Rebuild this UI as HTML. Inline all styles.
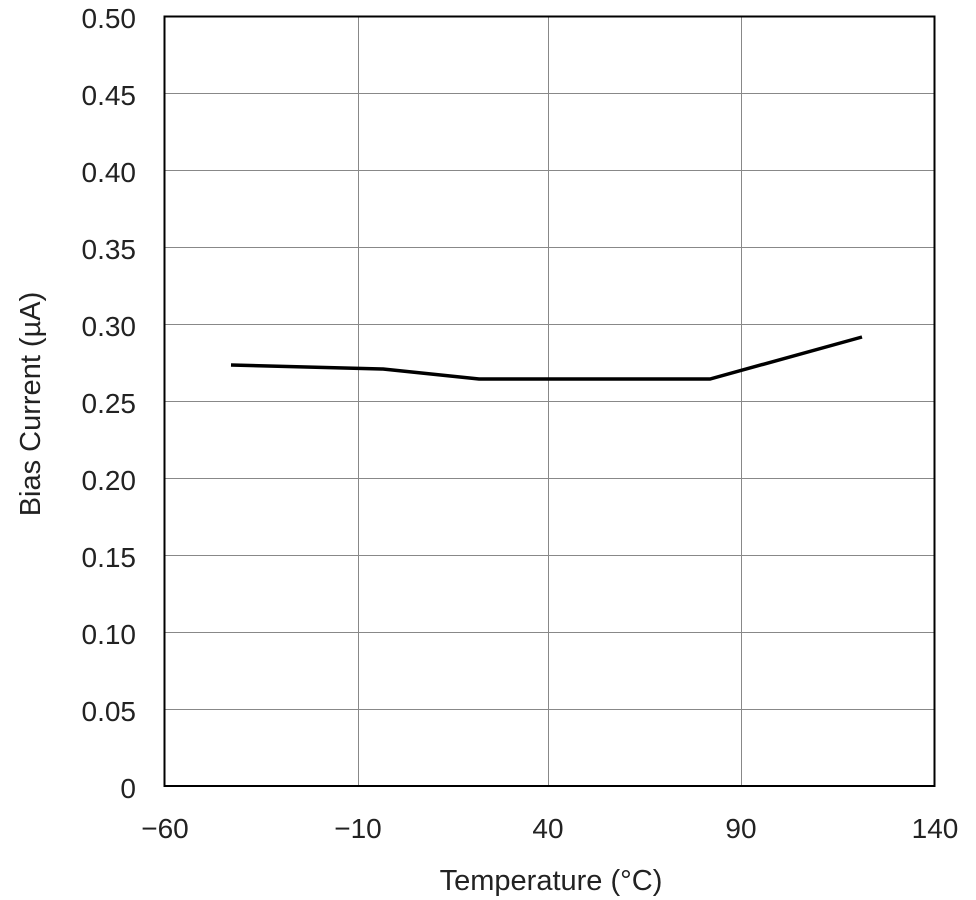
<!DOCTYPE html>
<html><head><meta charset="utf-8"><style>
html,body{margin:0;padding:0;background:#fff;}
svg{display:block;}
text{font-family:"Liberation Sans",Arial,sans-serif;fill:#222;}
</style></head><body>
<svg width="976" height="900" viewBox="0 0 976 900" xmlns="http://www.w3.org/2000/svg">
<g stroke="#888" stroke-width="1">
<line x1="358.5" y1="16" x2="358.5" y2="786"/>
<line x1="548.5" y1="16" x2="548.5" y2="786"/>
<line x1="741.5" y1="16" x2="741.5" y2="786"/>
<line x1="165" y1="93.5" x2="935" y2="93.5"/>
<line x1="165" y1="170.5" x2="935" y2="170.5"/>
<line x1="165" y1="247.5" x2="935" y2="247.5"/>
<line x1="165" y1="324.5" x2="935" y2="324.5"/>
<line x1="165" y1="401.5" x2="935" y2="401.5"/>
<line x1="165" y1="478.5" x2="935" y2="478.5"/>
<line x1="165" y1="555.5" x2="935" y2="555.5"/>
<line x1="165" y1="632.5" x2="935" y2="632.5"/>
<line x1="165" y1="709.5" x2="935" y2="709.5"/>
</g>
<rect x="164.5" y="16.5" width="770" height="769.5" fill="none" stroke="#000" stroke-width="2"/>
<polyline points="231,365 383,369 479,379 710,379 862,337" fill="none" stroke="#000" stroke-width="3.5"/>
<g font-size="28" text-anchor="end">
<text x="136" y="28">0.50</text>
<text x="136" y="105">0.45</text>
<text x="136" y="182">0.40</text>
<text x="136" y="259">0.35</text>
<text x="136" y="336">0.30</text>
<text x="136" y="413">0.25</text>
<text x="136" y="490">0.20</text>
<text x="136" y="567">0.15</text>
<text x="136" y="644">0.10</text>
<text x="136" y="721">0.05</text>
<text x="136" y="798">0</text>
</g>
<g font-size="28" text-anchor="middle">
<text x="165" y="838">−60</text>
<text x="358" y="838">−10</text>
<text x="548" y="838">40</text>
<text x="741" y="838">90</text>
<text x="935" y="838">140</text>
<text x="551" y="890" font-size="29">Temperature (°C)</text>
</g>
<text font-size="29" text-anchor="middle" transform="translate(40,404) rotate(-90)">Bias Current (µA)</text>
</svg>
</body></html>
